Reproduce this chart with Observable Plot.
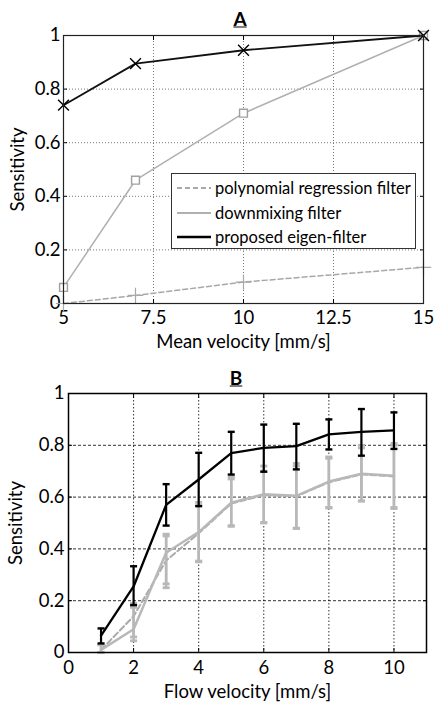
<!DOCTYPE html>
<html><head><meta charset="utf-8">
<script src="https://cdn.jsdelivr.net/npm/d3@7"></script>
<script src="https://cdn.jsdelivr.net/npm/@observablehq/plot@0.6"></script>
<style>
body{margin:0;background:#fff;font-family:Lato,sans-serif;}
#wrap{position:relative;width:435px;height:704px;overflow:hidden;}
#a{position:absolute;left:0;top:0}
#b{position:absolute;left:0;top:350px}
.title{position:absolute;font-weight:bold;font-size:19px;text-decoration:underline;transform:translate(-50%,-50%);line-height:1;}
.legend{position:absolute;left:171px;top:173px;width:243px;height:74px;border:1px solid #333;background:#fff;font-size:16.5px;color:#000;box-sizing:content-box;}
.row{position:absolute;left:5px;height:20px;display:flex;align-items:center;white-space:nowrap;}
.row svg{width:34px;height:20px;margin-right:4px;}
</style></head>
<body><div id="wrap"><div id="a"></div><div id="b"></div></div>
<script>
// ---- Panel A data ----
const velA = [5, 7, 10, 15];
const polyA = [0, 0.03, 0.08, 0.135];
const downA = [0.06, 0.46, 0.71, 1.0];
const eigenA = [0.74, 0.895, 0.945, 1.0];
const ticksXA = [5, 7.5, 10, 12.5, 15];
const gridXA = [7.5, 10, 12.5];
const ticksY = [0, 0.2, 0.4, 0.6, 0.8, 1];
const gridY = [0.2, 0.4, 0.6, 0.8];
const seriesNames = ["polynomial regression filter", "downmixing filter", "proposed eigen-filter"];

// ---- Panel B data ----
const velB = [1, 2, 3, 4, 5, 6, 7, 8, 9, 10];
const eigenB   = [0.065, 0.255, 0.57, 0.668, 0.77, 0.79, 0.797, 0.842, 0.852, 0.858];
const eigenBLo = [0.035, 0.183, 0.49, 0.565, 0.687, 0.698, 0.707, 0.784, 0.76, 0.786];
const eigenBHi = [0.093, 0.333, 0.65, 0.771, 0.852, 0.88, 0.883, 0.90, 0.94, 0.927];
const downB    = [0.01, 0.09, 0.385, 0.465, 0.578, 0.611, 0.605, 0.66, 0.69, 0.682];
const downBLo  = [0.0, 0.045, 0.265, 0.353, 0.487, 0.502, 0.479, 0.558, 0.585, 0.556];
const downBHi  = [0.03, 0.174, 0.457, 0.58, 0.678, 0.72, 0.73, 0.755, 0.80, 0.807];
const polyB    = [0.01, 0.14, 0.355, 0.46, 0.575, 0.608, 0.603, 0.657, 0.688, 0.68];
const polyBLo  = [0.0, 0.06, 0.25, 0.35, 0.49, 0.5, 0.48, 0.56, 0.585, 0.56];
const polyBHi  = [0.03, 0.19, 0.45, 0.57, 0.67, 0.7, 0.72, 0.75, 0.79, 0.8];
const ticksXB = [0, 2, 4, 6, 8, 10];
const gridXB = [2, 4, 6, 8, 10];

const fmt = d3.format("~g");
const font = "Lato, 'Open Sans', sans-serif";
const capSymbol = {draw(ctx, size) { const w = Math.sqrt(size / Math.PI); ctx.moveTo(-w, 0); ctx.lineTo(w, 0); }};

const tA = velA.map((v, i) => ({v, poly: polyA[i], down: downA[i], eig: eigenA[i]}));
const tB = velB.map((v, i) => ({v, eig: eigenB[i], elo: eigenBLo[i], ehi: eigenBHi[i],
  down: downB[i], dlo: downBLo[i], dhi: downBHi[i], poly: polyB[i], plo: polyBLo[i], phi: polyBHi[i]}));

const grayA = "#b0b0b0";
const plotA = Plot.plot({
  width: 435, height: 350, marginTop: 35, marginBottom: 47, marginLeft: 63, marginRight: 12,
  x: {domain: [5, 15]}, y: {domain: [0, 1]},
  style: {fontFamily: font, fontSize: "18.5px", color: "#000", background: "transparent", overflow: "visible"},
  marks: [
    Plot.gridX(gridXA, {stroke: "#777", strokeOpacity: 1, strokeDasharray: "1,2"}),
    Plot.gridY(gridY, {stroke: "#777", strokeOpacity: 1, strokeDasharray: "1,2"}),
    Plot.axisX(ticksXA, {tickSize: -4, tickPadding: 11, tickFormat: fmt, label: "Mean velocity [mm/s]", labelAnchor: "center", labelArrow: "none", labelOffset: 44}),
    Plot.axisY(ticksY, {tickSize: -4, tickPadding: 7, tickFormat: fmt, label: "Sensitivity", labelAnchor: "center", labelArrow: "none", labelOffset: 53}),
    Plot.axisX(ticksXA, {anchor: "top", tickSize: -4, tickFormat: () => "", label: null}),
    Plot.axisY(ticksY, {anchor: "right", tickSize: -4, tickFormat: () => "", label: null}),
    Plot.lineY(tA, {x: "v", y: "poly", stroke: "#a8a8a8", strokeWidth: 1.5, strokeDasharray: "5,3"}),
    Plot.dot(tA, {x: "v", y: "poly", symbol: "plus", stroke: "#a8a8a8", strokeWidth: 1.2, r: 5}),
    Plot.lineY(tA, {x: "v", y: "down", stroke: grayA, strokeWidth: 1.5}),
    Plot.dot(tA, {x: "v", y: "down", symbol: "square2", stroke: "#a0a0a0", fill: "white", strokeWidth: 1.4, r: 5}),
    Plot.lineY(tA, {x: "v", y: "eig", stroke: "#111", strokeWidth: 1.8}),
    Plot.dot(tA, {x: "v", y: "eig", symbol: "times", stroke: "#000", strokeWidth: 1.4, r: 5}),
    Plot.frame({stroke: "#222", strokeWidth: 1.2})
  ]
});
document.getElementById("a").append(plotA);

const grayB = "#b8b8b8";
const plotB = Plot.plot({
  width: 435, height: 354, marginTop: 43, marginBottom: 52, marginLeft: 68, marginRight: 9,
  x: {domain: [0, 11]}, y: {domain: [0, 1]},
  style: {fontFamily: font, fontSize: "18.5px", color: "#000", background: "transparent", overflow: "visible"},
  marks: [
    Plot.gridX(gridXB, {stroke: "#000", strokeOpacity: 0.8, strokeDasharray: "1.5,2"}),
    Plot.gridY(gridY, {stroke: "#000", strokeOpacity: 0.8, strokeDasharray: "3,2"}),
    Plot.axisX(ticksXB, {tickSize: -4, tickPadding: 12, tickFormat: fmt, label: "Flow velocity [mm/s]", labelAnchor: "center", labelArrow: "none", labelOffset: 45}),
    Plot.axisY(ticksY, {tickSize: -4, tickPadding: 8, tickFormat: fmt, label: "Sensitivity", labelAnchor: "center", labelArrow: "none", labelOffset: 60}),
    Plot.axisX(ticksXB, {anchor: "top", tickSize: -4, tickFormat: () => "", label: null}),
    Plot.axisY(ticksY, {anchor: "right", tickSize: -4, tickFormat: () => "", label: null}),
    // polynomial regression (dashed gray)
    Plot.ruleX(tB, {x: "v", y1: "plo", y2: "phi", stroke: grayB, strokeWidth: 2.5}),
    Plot.dot(tB, {x: "v", y: "plo", symbol: capSymbol, stroke: grayB, strokeWidth: 2.8, r: 3.5}),
    Plot.dot(tB, {x: "v", y: "phi", symbol: capSymbol, stroke: grayB, strokeWidth: 2.8, r: 3.5}),
    Plot.lineY(tB, {x: "v", y: "poly", stroke: "#aaa", strokeWidth: 2, strokeDasharray: "6,3"}),
    // downmixing (solid gray)
    Plot.ruleX(tB, {x: "v", y1: "dlo", y2: "dhi", stroke: grayB, strokeWidth: 2.5}),
    Plot.dot(tB, {x: "v", y: "dlo", symbol: capSymbol, stroke: grayB, strokeWidth: 2.8, r: 3.5}),
    Plot.dot(tB, {x: "v", y: "dhi", symbol: capSymbol, stroke: grayB, strokeWidth: 2.8, r: 3.5}),
    Plot.lineY(tB, {x: "v", y: "down", stroke: grayB, strokeWidth: 2.5}),
    // eigen (black)
    Plot.ruleX(tB, {x: "v", y1: "elo", y2: "ehi", stroke: "#000", strokeWidth: 2.2}),
    Plot.dot(tB, {x: "v", y: "elo", symbol: capSymbol, stroke: "#000", strokeWidth: 2.4, r: 3.5}),
    Plot.dot(tB, {x: "v", y: "ehi", symbol: capSymbol, stroke: "#000", strokeWidth: 2.4, r: 3.5}),
    Plot.lineY(tB, {x: "v", y: "eig", stroke: "#000", strokeWidth: 2.3}),
    Plot.frame({stroke: "#000", strokeWidth: 1.5})
  ]
});
document.getElementById("b").append(plotB);

// titles
const wrap = document.getElementById("wrap");
[["A", 240, 18], ["B", 236, 377]].forEach(([t, x, y]) => {
  const d = document.createElement("div");
  d.className = "title"; d.textContent = t;
  d.style.left = x + "px"; d.style.top = y + "px";
  wrap.append(d);
});

// legend for panel A
const leg = document.createElement("div");
leg.className = "legend";
const styles = [
  {stroke: "#a8a8a8", width: 1.8, dash: "5,3"},
  {stroke: "#b0b0b0", width: 1.8, dash: null},
  {stroke: "#000", width: 2.6, dash: null}
];
seriesNames.forEach((name, i) => {
  const r = document.createElement("div");
  r.className = "row";
  r.style.top = (4 + i * 24.5) + "px";
  const s = styles[i];
  r.innerHTML = `<svg viewBox="0 0 34 20"><line x1="0" x2="34" y1="10" y2="10" stroke="${s.stroke}" stroke-width="${s.width}" ${s.dash ? `stroke-dasharray="${s.dash}"` : ""}/></svg><span>${name}</span>`;
  leg.append(r);
});
wrap.append(leg);
</script>
</body></html>
